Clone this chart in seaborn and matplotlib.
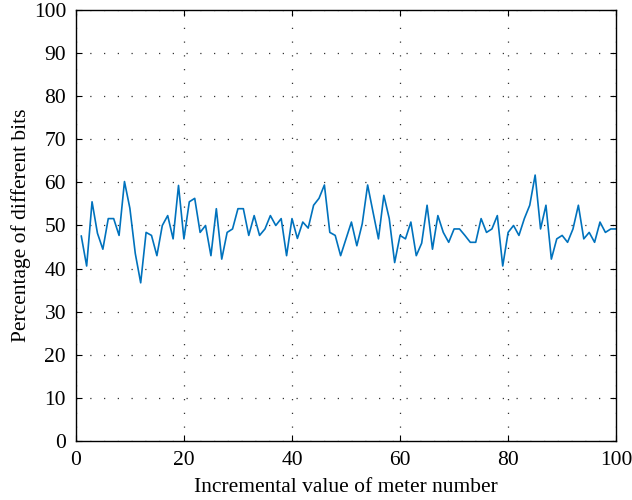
import numpy as np
import pandas as pd
import matplotlib
matplotlib.use("Agg")
import matplotlib.pyplot as plt
import seaborn as sns

meter = list(range(1, 101))
pct_diff = [
    47.6, 40.6, 55.5, 48.2, 44.5, 51.6, 51.6, 47.7, 60.2, 54.0,
    43.5, 36.7, 48.4, 47.7, 43.0, 50.0, 52.3, 46.9, 59.3, 46.9,
    55.5, 56.3, 48.4, 50.0, 43.0, 53.9, 42.2, 48.4, 49.2, 53.9,
    53.9, 47.7, 52.3, 47.7, 49.2, 52.3, 50.0, 51.6, 43.0, 51.6,
    47.0, 50.8, 49.4, 54.7, 56.3, 59.4, 48.4, 47.7, 43.0, 46.9,
    50.8, 45.3, 50.4, 59.4, 53.1, 46.9, 57.0, 51.6, 41.4, 47.7,
    46.9, 50.8, 43.0, 45.9, 54.7, 44.5, 52.3, 48.4, 46.1, 49.2,
    49.2, 47.7, 46.1, 46.1, 51.6, 48.4, 49.2, 52.3, 40.6, 48.4,
    50.0, 47.7, 51.6, 54.7, 61.7, 49.2, 54.7, 42.2, 46.9, 47.7,
    46.1, 49.2, 54.7, 46.9, 48.4, 46.1, 50.8, 48.4, 49.2, 49.2,
]
x_ticks = [0, 20, 40, 60, 80, 100]
y_ticks = [0, 10, 20, 30, 40, 50, 60, 70, 80, 90, 100]

df = pd.DataFrame({"meter": meter, "pct": pct_diff})

sns.set_theme(style="white")
plt.rcParams["font.family"] = ["Liberation Serif", "DejaVu Serif"]

fig = plt.figure(figsize=(6.32, 5.0), dpi=100)
ax = fig.add_axes([0.120, 0.118, 0.855, 0.862])

sns.lineplot(data=df, x="meter", y="pct", ax=ax, color="#0072BD", linewidth=1.2)

ax.set_xlim(0, 100)
ax.set_ylim(0, 100)
ax.set_xticks(x_ticks)
ax.set_yticks(y_ticks)
ax.tick_params(direction="in", length=4, width=0.8, labelsize=15.5, colors="black",
               top=True, right=True, bottom=True, left=True, pad=7)
ax.grid(True, linestyle=(0, (1, 10)), color="#333333", linewidth=0.9)
for s in ax.spines.values():
    s.set_visible(True)
    s.set_color("black")
    s.set_linewidth(1.0)

ax.set_xlabel("Incremental value of meter number", fontsize=15.5, color="black", labelpad=6)
ax.set_ylabel("Percentage of different bits", fontsize=15.5, color="black", labelpad=2)

fig.savefig("out.png", dpi=100)
